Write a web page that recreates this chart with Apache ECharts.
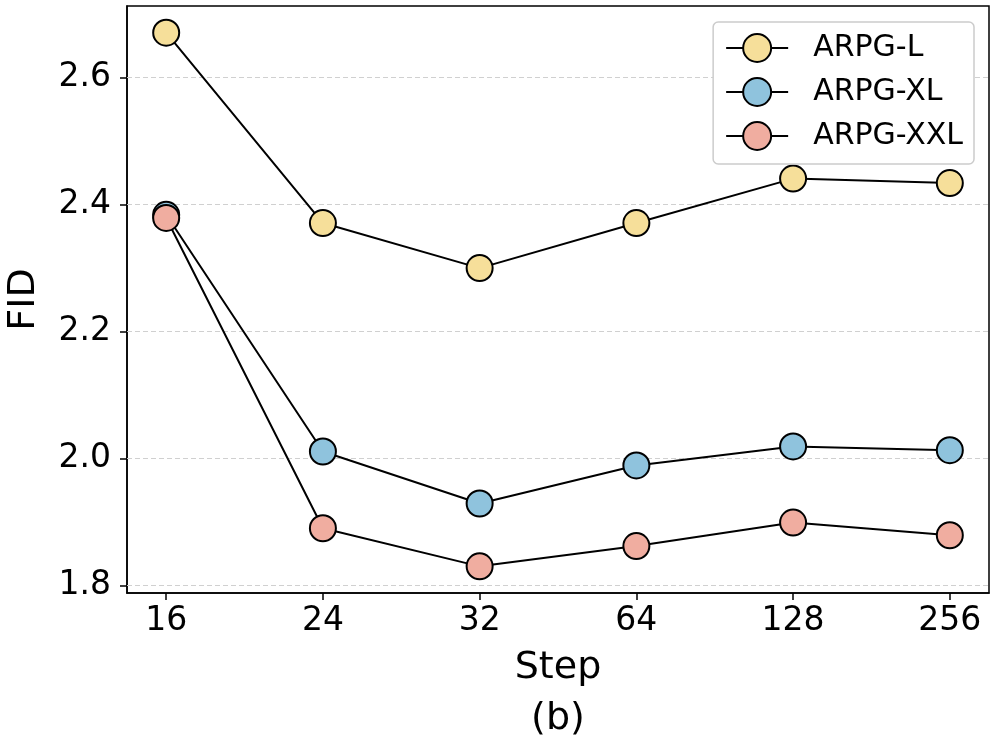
<!DOCTYPE html>
<html>
<head>
<meta charset="utf-8">
<script src="https://cdn.jsdelivr.net/npm/echarts@6/dist/echarts.min.js"></script>
<style>
html,body{margin:0;padding:0;background:#fff;}
#chart{width:996px;height:747px;}
</style>
</head>
<body>
<div id="chart"></div>
<script>
const steps = ['16', '24', '32', '64', '128', '256'];
const fidL = [2.671, 2.371, 2.300, 2.371, 2.441, 2.434];
const fidXL = [2.384, 2.011, 1.929, 1.989, 2.019, 2.013];
const fidXXL = [2.379, 1.890, 1.830, 1.862, 1.899, 1.879];
const yTicks = [1.8, 2.0, 2.2, 2.4, 2.6];
const seriesNames = ['ARPG-L', 'ARPG-XL', 'ARPG-XXL'];
const seriesColors = ['#f6df9a', '#8fc3dd', '#f0ada0'];

const xIdx = steps.map((s, i) => i);
const allData = [fidL, fidXL, fidXXL];
const FONT = 'DejaVu Sans';

const series = allData.map((vals, k) => ({
  name: seriesNames[k],
  type: 'line',
  data: vals.map((v, i) => [xIdx[i], v]),
  symbol: 'circle',
  symbolSize: 26,
  color: seriesColors[k],
  itemStyle: { color: seriesColors[k], borderColor: '#000', borderWidth: 2 },
  lineStyle: { color: '#000', width: 2 },
  z: 3 + k,
  animation: false
}));

// gridlines
series.push({
  type: 'line',
  data: [],
  silent: true,
  z: 1,
  markLine: {
    z: 1,
    silent: true,
    symbol: 'none',
    label: { show: false },
    emphasis: { disabled: true },
    lineStyle: { color: '#d0d0d0', type: [5, 3], width: 1 },
    data: yTicks.map(v => ({ yAxis: v }))
  },
  animation: false
});

const chart = echarts.init(document.getElementById('chart'), null, { renderer: 'canvas' });
chart.setOption({
  animation: false,
  backgroundColor: '#fff',
  grid: {
    left: 127, right: 7, top: 6, bottom: 154,
    outerBoundsMode: 'none',
    containLabel: false,
    show: true, borderColor: '#000', borderWidth: 1.5, backgroundColor: 'transparent'
  },
  xAxis: {
    type: 'value',
    min: -0.25, max: 5.25,
    name: 'Step\n(b)',
    nameLocation: 'middle',
    nameGap: 47,
    nameTextStyle: { fontFamily: FONT, fontSize: 38, color: '#000', lineHeight: 51 },
    axisLine: { show: true, onZero: false, lineStyle: { color: '#000', width: 1.5 } },
    axisTick: { show: true, inside: false, length: 7, lineStyle: { color: '#000', width: 1.5 }, customValues: xIdx },
    axisLabel: {
      customValues: xIdx,
      formatter: v => steps[Math.round(v)],
      fontFamily: FONT, fontSize: 33, color: '#000', margin: 12
    },
    splitLine: { show: false }
  },
  yAxis: {
    type: 'value',
    min: 1.788, max: 2.713,
    name: 'FID',
    nameLocation: 'middle',
    nameGap: 84,
    nameTextStyle: { fontFamily: FONT, fontSize: 38, color: '#000' },
    axisLine: { show: true, onZero: false, lineStyle: { color: '#000', width: 1.5 } },
    axisTick: { show: true, inside: false, length: 7, lineStyle: { color: '#000', width: 1.5 }, customValues: yTicks },
    axisLabel: {
      customValues: yTicks,
      formatter: v => v.toFixed(1),
      fontFamily: FONT, fontSize: 33, color: '#000', margin: 16
    },
    splitLine: { show: false }
  },
  legend: {
    data: seriesNames,
    orient: 'vertical',
    right: 22, top: 22,
    z: 10,
    itemWidth: 62, itemHeight: 35, itemGap: 14,
    padding: [11, 11, 13, 12],
    backgroundColor: '#ffffff',
    borderColor: '#cccccc', borderWidth: 1.5, borderRadius: 5,
    textStyle: { fontFamily: FONT, fontSize: 30, color: '#000', padding: [0, 0, 0, 20] },
    lineStyle: { color: '#000', width: 2 },
    itemStyle: { borderColor: '#000', borderWidth: 2 }
  },
  series: series
});
</script>
</body>
</html>
